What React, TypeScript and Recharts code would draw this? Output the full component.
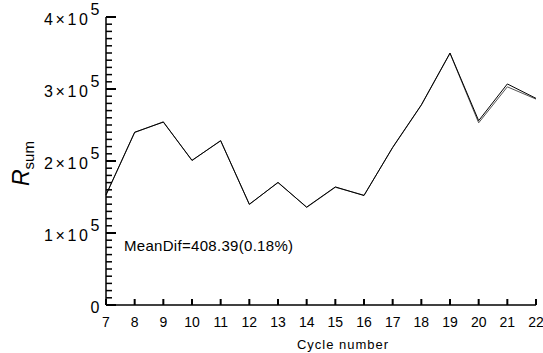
import { LineChart, Line, XAxis, YAxis, Customized } from "recharts";

const cycles = [7, 8, 9, 10, 11, 12, 13, 14, 15, 16, 17, 18, 19, 20, 21, 22];
const rsumA = [153000, 240000, 254000, 201000, 228000, 140000, 170000, 136000, 164000, 152000, 219000, 278000, 350000, 256000, 307000, 287000];
const rsumB = [152500, 239500, 254500, 200500, 228500, 139500, 170500, 135500, 163500, 152500, 218500, 277500, 349500, 253000, 303000, 286000];
const yMajor = [0, 100000, 200000, 300000, 400000];
const yMajorLabels = ["0", "1×10", "2×10", "3×10", "4×10"];
const yTicks = Array.from({ length: 41 }, (_, i) => i * 10000);
const meanDifText = "MeanDif=408.39(0.18%)";

const data = cycles.map((c, i) => ({ cycle: c, a: rsumA[i], b: rsumB[i] }));

const FONT = "Liberation Sans, Arial, sans-serif";

// inward tick marks are drawn by the tick renderers themselves
const renderYTick = (props: any) => {
  const { x, y, payload } = props;
  const ax = Number(x);
  const ay = Number(y);
  const idx = yMajor.indexOf(payload.value);
  if (idx < 0) return <rect x={ax} y={ay - 0.75} width={6} height={1.5} fill="#000" />;
  return (
    <g>
      <rect x={ax} y={ay - 1} width={10} height={2} fill="#000" />
      <text x={ax - 4} y={ay + 8} textAnchor="end" fontSize={16} fontFamily={FONT} fill="#000" letterSpacing={2.6}>
        <tspan>{yMajorLabels[idx]}</tspan>
        {idx > 0 && <tspan dy={-10}>5</tspan>}
      </text>
    </g>
  );
};

const renderXTick = (props: any) => {
  const { x, y, payload } = props;
  const ax = Number(x);
  const ay = Number(y);
  return (
    <g>
      <rect x={ax - 1} y={ay - 6} width={2} height={6} fill="#000" />
      <text x={ax} y={ay + 22} textAnchor="middle" fontSize={14} fontFamily={FONT} fill="#000">
        {payload.value}
      </text>
    </g>
  );
};

const Extras = () => (
  <g>
    <text x={0} y={0} transform="translate(29,186) rotate(-90)" fontFamily={FONT} fill="#000">
      <tspan fontSize={23} fontStyle="italic">R</tspan>
      <tspan fontSize={15} dy={5}>sum</tspan>
    </text>
    <text x={124} y={251} fontSize={15} fontFamily={FONT} fill="#000" letterSpacing={0.3}>
      {meanDifText}
    </text>
    <text x={343} y={349} textAnchor="middle" fontSize={13} fontFamily={FONT} fill="#000" letterSpacing={1}>
      Cycle number
    </text>
  </g>
);

export default function App() {
  return (
    <div style={{ position: "absolute", left: 0, top: 0, background: "#fff" }}>
      <LineChart width={543} height={353} data={data} margin={{ top: 17, right: 7, bottom: 0, left: 0 }}>
        <XAxis
          dataKey="cycle"
          type="number"
          domain={[7, 22]}
          ticks={cycles}
          tickSize={0}
          tickMargin={0}
          tickLine={false}
          tick={renderXTick}
          height={48}
          axisLine={{ stroke: "#000", strokeWidth: 1.5 }}
          interval={0}
        />
        <YAxis
          type="number"
          domain={[0, 400000]}
          ticks={yTicks}
          tickSize={0}
          tickMargin={0}
          tickLine={false}
          tick={renderYTick}
          width={106}
          axisLine={{ stroke: "#000", strokeWidth: 1.5 }}
          interval={0}
        />
        <Line type="linear" dataKey="b" stroke="#555" strokeWidth={1} dot={false} isAnimationActive={false} />
        <Line type="linear" dataKey="a" stroke="#000" strokeWidth={1} dot={false} isAnimationActive={false} />
        <Customized component={<Extras />} />
      </LineChart>
    </div>
  );
}
